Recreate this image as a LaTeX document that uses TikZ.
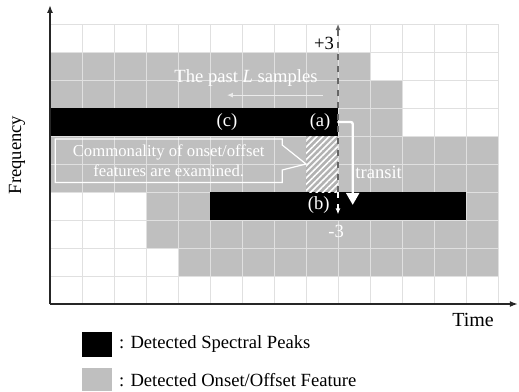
\documentclass[tikz,border=0pt]{standalone}
\usepackage{fontspec}
\setmainfont{Liberation Serif}
\usepackage{tikz}
\usetikzlibrary{shapes,shapes.callouts,arrows.meta,patterns.meta,positioning}

\begin{document}
\begin{tikzpicture}[x=16pt,y=14pt,
	onset/.style={fill=black!25},
	peak/.style={fill=black},
	cellgrid/.style={draw=black!12,line width=0.5pt},
	wlabel/.style={text=white,font=\fontsize{9.3}{11}\selectfont},
	blabel/.style={text=black,font=\fontsize{9.3}{11}\selectfont},
	axislabel/.style={font=\fontsize{10}{12}\selectfont},
	axis/.style={line width=0.8pt,black!85,-{Latex[length=4pt,width=3pt]}},
	hatchbox/.style={minimum width=16pt,minimum height=28pt,inner sep=0pt,outer sep=0pt,
		preaction={fill=black!30},pattern={Lines[angle=45,distance=2.2pt,line width=0.8pt]},pattern color=white},
	transit/.style={white,line width=1.2pt,rounded corners=1pt,-{Triangle[length=6pt,width=6.5pt]}},
	pastarrow/.style={black!8,line width=0.5pt,-{Latex[length=3pt,width=2.5pt]}},
	note/.style={shape=rectangle callout,draw=white,line width=0.6pt,text=white,align=center,
		font=\fontsize{8.35}{10.3}\selectfont,minimum width=113.5pt,minimum height=21.75pt,
		inner sep=1pt,callout pointer width=12.5pt},
	keybox/.style={minimum width=15pt,inner sep=0pt}]

\useasboundingbox (-1.5625,-3.107) rectangle (14.656,10.857);

\foreach \row/\from/\to in {8/0/10,7/0/11,6/9/11,5/0/14,4/0/14,3/3/5,3/13/14,2/3/14,1/4/14}
	\fill[onset] (\from,\row) rectangle (\to,\row+1);
\foreach \i in {0,...,14}
	\draw[cellgrid] (\i,0) -- (\i,10);
\foreach \j in {0,...,10}
	\draw[cellgrid] (0,\j) -- (14,\j);
\fill[peak] (0,6) rectangle (9,7);
\fill[peak] (5,3) rectangle (13,4);

\node[hatchbox] (window) at (8.5,5) {};

\coordinate (plus) at (9,10);
\coordinate (split) at (9,4);
\coordinate (minus) at (9,3.2);
\draw[dashed,black!60,line width=0.6pt,-{Latex[length=3pt,width=2.5pt]}] (split) -- (plus);
\draw[dashed,white,line width=0.6pt,-{Latex[length=3pt,width=2.5pt]}] (split) -- (minus);
\node[blabel] (pluslabel) at (8.56,9.32) {+3};
\node[wlabel] (minuslabel) at (8.94,2.58) {-3};

\node[wlabel] (past) at (6.125,8.07) {The past \textit{L} samples};
\coordinate (pastfrom) at (8.53,7.46);
\coordinate (pastto) at (5.53,7.46);
\draw[pastarrow] (pastfrom) -- (pastto);

\node[wlabel] (peakc) at (5.53,6.5) {(c)};
\node[wlabel] (peaka) at (8.44,6.5) {(a)};
\node[wlabel] (peakb) at (8.4,3.54) {(b)};
\draw[transit] (peaka.east) -| ([xshift=8pt]peakb.east);
\node[wlabel] (transitlabel) at (10.27,4.71) {transit};

\node[note,callout absolute pointer={(window.west)}] (common) at (3.71,5.116)
	{Commonality of onset/offset\\features are examined.};

\coordinate (origin) at (0,0);
\coordinate (freqend) at (0,10.68);
\coordinate (timeend) at (14.62,0);
\draw[axis] (origin) -- (freqend);
\draw[axis] (origin) -- (timeend);
\node[axislabel] (time) at (13.22,-0.57) {Time};
\node[blabel,rotate=90] (freq) at (-1.03,5.32) {Frequency};

\node[peak,keybox,minimum height=12.5pt] (keypeak) at (1.46,-1.445) {};
\node[blabel,right=0pt of keypeak] (keypeaktext) {: Detected Spectral Peaks};
\node[onset,keybox,minimum height=11.5pt] (keyonset) at (1.46,-2.70) {};
\node[blabel,right=0pt of keyonset] (keyonsettext) {: Detected Onset/Offset Feature};

\end{tikzpicture}
\end{document}
